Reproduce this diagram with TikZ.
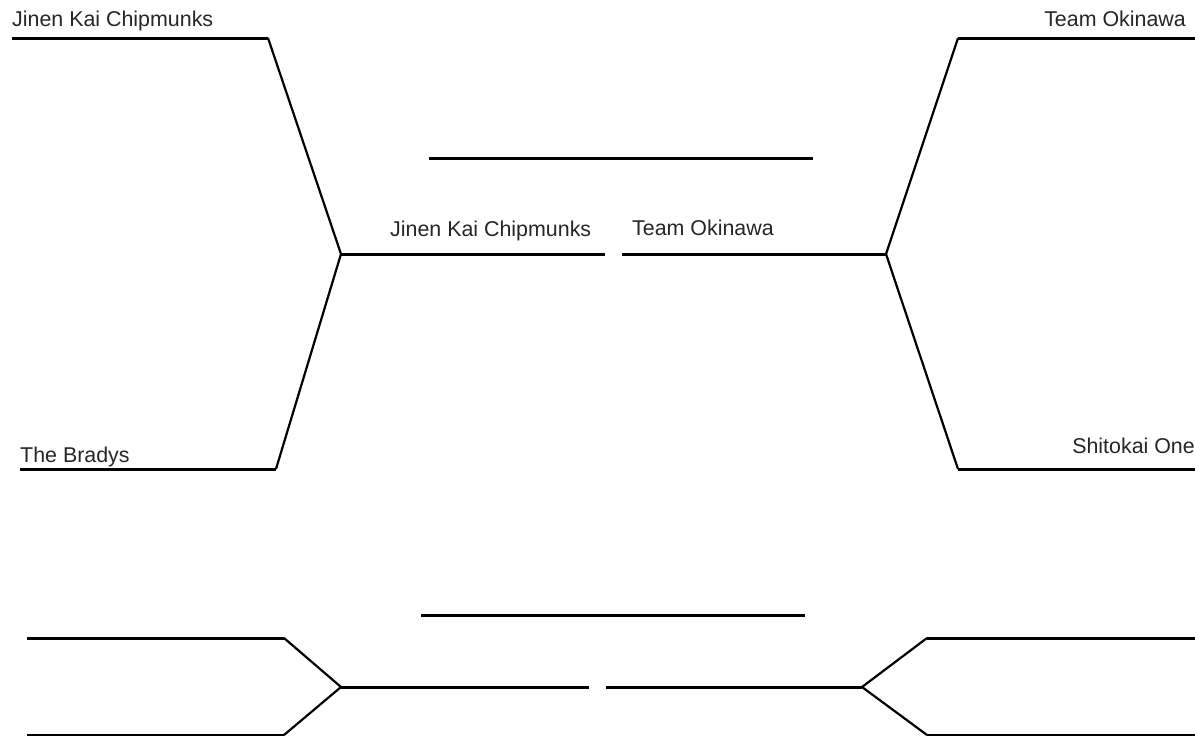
\documentclass[tikz,border=0pt]{standalone}
\usepackage{fontspec}
\setmainfont{Liberation Sans}
\usetikzlibrary{positioning}
\tikzset{
  slot/.style={line width=3pt, line cap=butt},
  link/.style={line width=2.2pt, line join=miter},
  team/.style={inner sep=0pt, font=\fontsize{21.4}{25}\selectfont, text=black!85},
}

\begin{document}
\begin{tikzpicture}[x=1pt, y=-1pt]
  \useasboundingbox (0,0) rectangle (1195,736);

  % UPPER BRACKET - LEFT SIDE
  \coordinate (l1a) at (12,38);   \coordinate (l1b) at (268,38);
  \coordinate (l2a) at (20,469);  \coordinate (l2b) at (276,469);
  \coordinate (lf) at (341,254);  \coordinate (lfe) at (605,254);
  \draw[slot] (l1a) -- (l1b);
  \draw[slot] (l2a) -- (l2b);
  \draw[link] (l1b) -- (lf) -- (l2b);
  \draw[slot] (lf) -- (lfe);

  % UPPER BRACKET - RIGHT SIDE
  \coordinate (r1a) at (1195,38);  \coordinate (r1b) at (958,38);
  \coordinate (r2a) at (1195,469); \coordinate (r2b) at (958,469);
  \coordinate (rf) at (886,254);   \coordinate (rfe) at (622,254);
  \draw[slot] (r1a) -- (r1b);
  \draw[slot] (r2a) -- (r2b);
  \draw[link] (r1b) -- (rf) -- (r2b);
  \draw[slot] (rf) -- (rfe);

  % CHAMPION LINE
  \coordinate (ca) at (429,158); \coordinate (cb) at (813,158);
  \draw[slot] (ca) -- (cb);

  % TEAM NAMES
  \node[team, anchor=base west] (jkc) at (12,26) {Jinen Kai Chipmunks};
  \node[team, anchor=base west] (brd) at (20,462) {The Bradys};
  \node[team, anchor=base east] (tok) at (1186,26) {Team Okinawa};
  \node[team, anchor=base east] (sto) at (1195,453) {Shitokai One};
  \node[team, anchor=base west] (fjkc) at (390,236) {Jinen Kai Chipmunks};
  \node[team, anchor=base west] (ftok) at (632,235) {Team Okinawa};

  % LOWER BRACKET (THIRD PLACE)
  \coordinate (tla) at (421,615); \coordinate (tlb) at (805,615);
  \draw[slot] (tla) -- (tlb);

  \coordinate (b1a) at (27,638);  \coordinate (b1b) at (284,638);
  \coordinate (b2a) at (27,735);  \coordinate (b2b) at (284,735);
  \coordinate (bf) at (341,687);  \coordinate (bfe) at (589,687);
  \draw[slot] (b1a) -- (b1b);
  \draw[slot] (b2a) -- (b2b);
  \draw[link] (b1b) -- (bf) -- (b2b);
  \draw[slot] (bf) -- (bfe);

  \coordinate (c1a) at (1195,638); \coordinate (c1b) at (927,638);
  \coordinate (c2a) at (1195,735); \coordinate (c2b) at (927,735);
  \coordinate (cf) at (862,687);   \coordinate (cfe) at (606,687);
  \draw[slot] (c1a) -- (c1b);
  \draw[slot] (c2a) -- (c2b);
  \draw[link] (c1b) -- (cf) -- (c2b);
  \draw[slot] (cf) -- (cfe);
\end{tikzpicture}
\end{document}
